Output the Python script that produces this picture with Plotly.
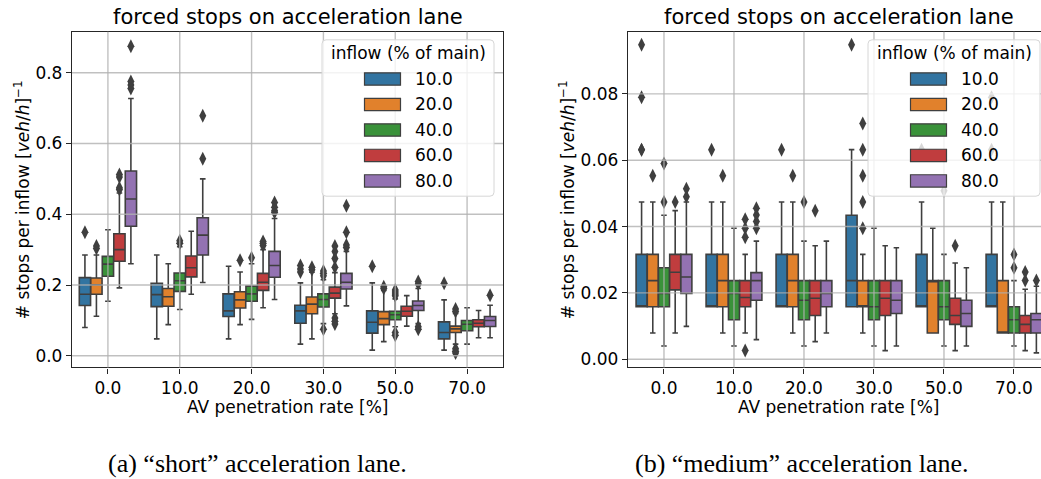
import plotly.graph_objects as go

W, H = 1041, 479

# ---------------- data ----------------
av_labels = ["0.0", "10.0", "20.0", "30.0", "50.0", "70.0"]
inflow_labels = ["10.0", "20.0", "40.0", "60.0", "80.0"]
colors = ["#3274a1", "#e1812c", "#3a923a", "#c03d3e", "#9372b2"]

# (a) short lane  -- rows: inflow 10,20,40,60,80 ; cols: AV 0,10,20,30,50,70
short_lo = [
    [0.080, 0.048, 0.048, 0.033, 0.016, 0.016],
    [0.112, 0.088, 0.088, 0.048, 0.040, 0.033],
    [0.154, 0.131, 0.103, 0.091, 0.082, 0.033],
    [0.192, 0.174, 0.136, 0.119, 0.084, 0.051],
    [0.260, 0.207, 0.159, 0.141, 0.091, 0.051],
]
short_q1 = [
    [0.142, 0.139, 0.111, 0.092, 0.064, 0.048],
    [0.174, 0.140, 0.135, 0.119, 0.088, 0.066],
    [0.225, 0.182, 0.154, 0.138, 0.102, 0.071],
    [0.267, 0.223, 0.185, 0.163, 0.112, 0.082],
    [0.366, 0.285, 0.222, 0.189, 0.128, 0.083],
]
short_med = [
    [0.174, 0.173, 0.127, 0.127, 0.095, 0.066],
    [0.201, 0.167, 0.158, 0.146, 0.105, 0.076],
    [0.259, 0.212, 0.175, 0.159, 0.116, 0.089],
    [0.300, 0.249, 0.208, 0.177, 0.126, 0.092],
    [0.443, 0.341, 0.255, 0.208, 0.142, 0.100],
]
short_q3 = [
    [0.221, 0.205, 0.175, 0.143, 0.127, 0.096],
    [0.220, 0.190, 0.181, 0.166, 0.125, 0.084],
    [0.281, 0.234, 0.197, 0.175, 0.126, 0.100],
    [0.345, 0.282, 0.233, 0.194, 0.140, 0.102],
    [0.522, 0.390, 0.295, 0.233, 0.155, 0.111],
]
short_hi = [
    [0.285, 0.285, 0.253, 0.206, 0.206, 0.158],
    [0.285, 0.260, 0.237, 0.236, 0.185, 0.120],
    [0.356, 0.308, 0.260, 0.215, 0.161, 0.136],
    [0.460, 0.352, 0.300, 0.235, 0.170, 0.128],
    [0.727, 0.500, 0.388, 0.295, 0.190, 0.143],
]
short_out = [
    [[0.349], [], [], [0.237, 0.245, 0.255], [0.253], [0.205]],
    [[0.303, 0.310], [], [0.270], [0.243, 0.250], [0.190, 0.195], [0.125, 0.132, 0.008, 0.013, 0.020]],
    [[], [0.318, 0.325], [0.277], [0.226, 0.233, 0.240, 0.075], [0.170, 0.175, 0.180, 0.186, 0.066, 0.058], []],
    [[0.470, 0.475, 0.505, 0.512], [], [0.312, 0.318, 0.323], [0.250, 0.275, 0.295, 0.310, 0.107, 0.098, 0.090], [], []],
    [[0.755, 0.765, 0.775, 0.875], [0.557, 0.678], [0.405, 0.410, 0.420, 0.433], [0.306, 0.313, 0.349, 0.424], [0.203, 0.210, 0.075, 0.082], [0.171]],
]

# (b) medium lane
medium_lo = [
    [0.0158, 0.0158, 0.0158, 0.0158, 0.0158, 0.0158],
    [0.0079, 0.0079, 0.0079, 0.0079, 0.0079, 0.0079],
    [0.0040, 0.0040, 0.0040, 0.0040, 0.0040, 0.0040],
    [0.0079, 0.0079, 0.0053, 0.0026, 0.0026, 0.0026],
    [0.0099, 0.0059, 0.0079, 0.0040, 0.0040, 0.0019],
]
medium_q1 = [
    [0.0158, 0.0158, 0.0158, 0.0158, 0.0158, 0.0158],
    [0.0158, 0.0158, 0.0158, 0.0158, 0.0079, 0.0079],
    [0.0158, 0.0119, 0.0119, 0.0119, 0.0119, 0.0079],
    [0.0209, 0.0158, 0.0132, 0.0132, 0.0105, 0.0079],
    [0.0198, 0.0178, 0.0158, 0.0138, 0.0099, 0.0079],
]
medium_med = [
    [0.0158, 0.0158, 0.0158, 0.0237, 0.0158, 0.0158],
    [0.0237, 0.0237, 0.0237, 0.0158, 0.0237, 0.0079],
    [0.0198, 0.0198, 0.0178, 0.0158, 0.0158, 0.0119],
    [0.0262, 0.0186, 0.0184, 0.0184, 0.0132, 0.0105],
    [0.0248, 0.0237, 0.0198, 0.0178, 0.0138, 0.0119],
]
medium_q3 = [
    [0.0316, 0.0316, 0.0316, 0.0434, 0.0316, 0.0316],
    [0.0316, 0.0316, 0.0316, 0.0237, 0.0237, 0.0237],
    [0.0276, 0.0237, 0.0237, 0.0237, 0.0237, 0.0158],
    [0.0316, 0.0237, 0.0237, 0.0237, 0.0184, 0.0132],
    [0.0316, 0.0261, 0.0237, 0.0237, 0.0178, 0.0138],
]
medium_hi = [
    [0.0474, 0.0474, 0.0474, 0.0632, 0.0474, 0.0474],
    [0.0474, 0.0474, 0.0474, 0.0316, 0.0395, 0.0474],
    [0.0434, 0.0395, 0.0356, 0.0395, 0.0316, 0.0237],
    [0.0448, 0.0316, 0.0342, 0.0342, 0.0290, 0.0211],
    [0.0474, 0.0356, 0.0356, 0.0336, 0.0276, 0.0220],
]
medium_out = [
    [[0.0632, 0.0632, 0.0790, 0.0948], [0.0632], [0.0632], [0.0948], [0.0632], [0.0632, 0.0790]],
    [[0.0553], [0.0553], [0.0553], [0.0395, 0.0474, 0.0553, 0.0632, 0.0711], [], []],
    [[0.0474, 0.0590], [], [0.0474], [], [0.0508], [0.0276, 0.0316]],
    [[0.0474], [0.0368, 0.0395, 0.0422, 0.0026], [0.0448], [], [0.0342], [0.0237, 0.0263]],
    [[0.0490, 0.0514], [0.0395, 0.0415, 0.0435, 0.0455], [], [], [], [0.0237]],
]

short_yticks = [0.0, 0.2, 0.4, 0.6, 0.8]
medium_yticks = [0.00, 0.02, 0.04, 0.06, 0.08]

# ---------------- styling ----------------
EDGE = "#3f3f3f"
FONT = "DejaVu Sans"
SLOT = 0.16
BOXW = 0.157
GRID = "rgba(176,176,176,0.8)"


def px(x):
    return x / W


def py(y):
    return 1 - y / H


fig = go.Figure()

panels = [
    (short_lo, short_q1, short_med, short_q3, short_hi, short_out, "x", "y"),
    (medium_lo, medium_q1, medium_med, medium_q3, medium_hi, medium_out, "x2", "y2"),
]

for lo, q1, med, q3, hi, out, xa, ya in panels:
    for h in range(len(inflow_labels)):
        xs = [i + (h - 2) * SLOT for i in range(len(av_labels))]
        fig.add_trace(go.Box(
            x=xs, q1=q1[h], median=med[h], q3=q3[h],
            lowerfence=lo[h], upperfence=hi[h],
            width=BOXW, whiskerwidth=0.5, boxpoints=False,
            fillcolor=colors[h], line=dict(color=EDGE, width=1.6),
            xaxis=xa, yaxis=ya, showlegend=False, hoverinfo="skip",
            name=inflow_labels[h],
        ))
        ox, oy = [], []
        for i in range(len(av_labels)):
            for v in out[h][i]:
                ox.append(xs[i])
                oy.append(v)
        fig.add_trace(go.Scatter(
            x=ox, y=oy, mode="markers",
            marker=dict(symbol="diamond-tall", size=10, color=EDGE),
            xaxis=xa, yaxis=ya, showlegend=False, hoverinfo="skip",
        ))

axis_common = dict(
    showgrid=False, zeroline=False, showline=True, linecolor="#262626",
    linewidth=1.3, ticks="outside", ticklen=5, tickwidth=1.2,
    tickcolor="#262626", tickfont=dict(family=FONT, size=17, color="#000"),
)

fig.update_layout(
    width=W, height=H, margin=dict(l=0, r=0, t=0, b=0),
    paper_bgcolor="white", plot_bgcolor="white", boxmode="overlay",
    xaxis=dict(domain=[px(72), px(503)], range=[-0.5, 5.5], anchor="y",
               tickvals=list(range(len(av_labels))), ticktext=av_labels,
               mirror=True, **axis_common),
    yaxis=dict(domain=[py(369), py(32)], range=[-0.0329, 0.9153], anchor="x",
               tickvals=short_yticks, ticktext=[f"{v:.1f}" for v in short_yticks],
               mirror=True, **axis_common),
    xaxis2=dict(domain=[px(628), 1.0], range=[-0.514, 5.386], anchor="y2",
                tickvals=list(range(len(av_labels))), ticktext=av_labels,
                mirror=True, **axis_common),
    yaxis2=dict(domain=[py(369), py(32)], range=[-0.00249, 0.09871], anchor="x2",
                tickvals=medium_yticks, ticktext=[f"{v:.2f}" for v in medium_yticks],
                mirror=False, **axis_common),
)

shapes = []
# grid drawn above the boxes (as in the reference)
for xa, ya, yt in (("x", "y", short_yticks), ("x2", "y2", medium_yticks)):
    for v in yt:
        shapes.append(dict(type="line", xref=f"{xa} domain", yref=ya, x0=0, x1=1,
                           y0=v, y1=v, line=dict(color=GRID, width=1.4), layer="above"))
    for i in range(len(av_labels)):
        shapes.append(dict(type="line", xref=xa, yref=f"{ya} domain", x0=i, x1=i,
                           y0=0, y1=1, line=dict(color=GRID, width=1.4), layer="above"))


def rounded_rect(x0, y0, x1, y1, r):
    return (f"M {px(x0 + r)} {py(y0)} L {px(x1 - r)} {py(y0)} "
            f"Q {px(x1)} {py(y0)} {px(x1)} {py(y0 + r)} "
            f"L {px(x1)} {py(y1 - r)} Q {px(x1)} {py(y1)} {px(x1 - r)} {py(y1)} "
            f"L {px(x0 + r)} {py(y1)} Q {px(x0)} {py(y1)} {px(x0)} {py(y1 - r)} "
            f"L {px(x0)} {py(y0 + r)} Q {px(x0)} {py(y0)} {px(x0 + r)} {py(y0)} Z")


annotations = []
for lx in (322, 868):
    shapes.append(dict(type="path", xref="paper", yref="paper",
                       path=rounded_rect(lx, 40, lx + 172, 197, 4),
                       fillcolor="rgba(255,255,255,0.8)",
                       line=dict(color="#d6d6d6", width=1), layer="above"))
    annotations.append(dict(x=px(lx + 86), y=py(53.5), xref="paper", yref="paper",
                            text="inflow (% of main)", showarrow=False,
                            xanchor="center", yanchor="middle",
                            font=dict(family=FONT, size=17, color="#000")))
    for h, lab in enumerate(inflow_labels):
        cy = 79.3 + h * 25.6
        shapes.append(dict(type="rect", xref="paper", yref="paper",
                           x0=px(lx + 42.5), x1=px(lx + 78.5),
                           y0=py(cy - 6.2), y1=py(cy + 6.2),
                           fillcolor=colors[h], line=dict(color=EDGE, width=1.2),
                           layer="above"))
        annotations.append(dict(x=px(lx + 91), y=py(cy), xref="paper", yref="paper",
                                text=lab, showarrow=False, xanchor="left",
                                yanchor="middle",
                                font=dict(family=FONT, size=17, color="#000")))

# titles, axis titles, captions
for cx in (287.5, 838.5):
    annotations.append(dict(x=px(cx), y=py(17), xref="paper", yref="paper",
                            text="forced stops on acceleration lane", showarrow=False,
                            xanchor="center", yanchor="middle",
                            font=dict(family=FONT, size=21, color="#000")))
    annotations.append(dict(x=px(cx), y=py(409), xref="paper", yref="paper",
                            text="AV penetration rate [%]", showarrow=False,
                            xanchor="center", yanchor="middle",
                            font=dict(family=FONT, size=17, color="#000")))
for cx in (22, 567):
    annotations.append(dict(x=px(cx), y=py(201), xref="paper", yref="paper",
                            text="# stops per inflow [<i>veh</i>/<i>h</i>]<sup>−1</sup>",
                            showarrow=False, textangle=-90,
                            xanchor="center", yanchor="middle",
                            font=dict(family=FONT, size=17, color="#000")))
for cx, txt in ((257, "(a) “short” acceleration lane."),
                (801, "(b) “medium” acceleration lane.")):
    annotations.append(dict(x=px(cx), y=py(465), xref="paper", yref="paper",
                            text=txt, showarrow=False, xanchor="center",
                            yanchor="middle",
                            font=dict(family="Liberation Serif", size=26, color="#000")))

fig.update_layout(shapes=shapes, annotations=annotations)
fig.write_html(
    "out.html",
    config={"displayModeBar": False},
    post_script="document.body.style.margin='0';document.body.style.overflow='hidden';",
)
